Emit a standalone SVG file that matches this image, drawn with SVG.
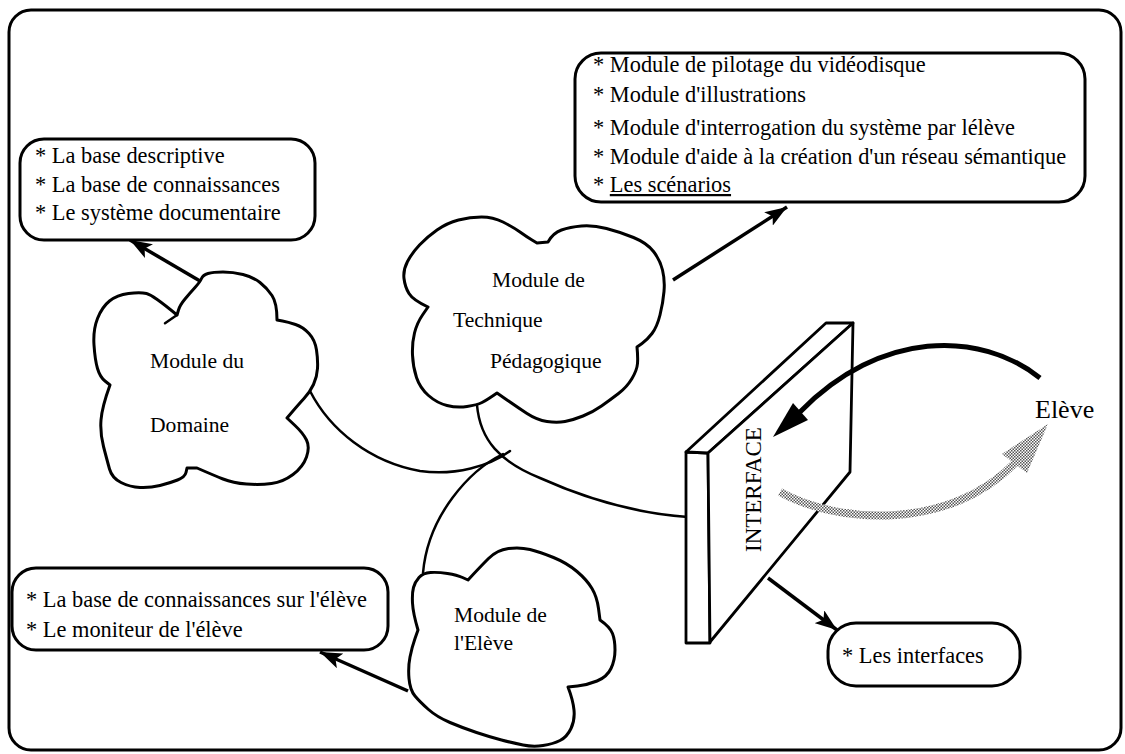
<svg xmlns="http://www.w3.org/2000/svg" width="1125" height="754" viewBox="0 0 1125 754">
<defs>
<style>
.frame{fill:#fff;stroke:#000;stroke-width:3}
.box{fill:#fff;stroke:#000;stroke-width:3}
.cloud{fill:#fff;stroke:#000;stroke-width:3;stroke-linejoin:round}
.conn{fill:none;stroke:#000;stroke-width:2.5;stroke-linecap:round}
.arr{fill:none;stroke:#000;stroke-width:3.5;marker-end:url(#ah)}
.panel{fill:#fff;stroke:#000;stroke-width:2.8;stroke-linejoin:round}
</style>
<marker id="ah" markerUnits="userSpaceOnUse" markerWidth="24" markerHeight="16" refX="22" refY="8" orient="auto">
<path d="M0,0 L22,8 L0,16 L5,8 z" fill="#000"/>
</marker>
<pattern id="dots" width="3" height="3" patternUnits="userSpaceOnUse">
<rect width="3" height="3" fill="#fff"/>
<rect x="0" y="0" width="1.5" height="1.5" fill="#555"/>
<rect x="1.5" y="1.5" width="1.5" height="1.5" fill="#555"/>
</pattern>
</defs>
<rect class="frame" x="9" y="10" width="1112" height="740" rx="22"/>

<g id="connectors">
<path class="conn" d="M310,391 C330,430 370,462 420,471 C455,476 490,466 510,451"/>
<path class="conn" d="M477,405 C480,440 500,462 540,478 C580,496 630,513 688,517"/>
<path class="conn" d="M503,454 C470,470 428,515 423,573"/>
<path class="arr" d="M200,281 L130,240"/>
<path class="arr" d="M673,280 L787,207"/>
<path class="arr" d="M408,691 L320,652"/>
<path class="arr" d="M768,578 L837,630"/>
</g>

<g id="box-domaine">
<rect class="box" x="20" y="139" width="295" height="101" rx="24"/>
<text font-family="Liberation Serif, serif" font-size="22.4" x="35" y="163">* La base descriptive</text>
<text font-family="Liberation Serif, serif" font-size="22.4" x="35" y="192">* La base de connaissances</text>
<text font-family="Liberation Serif, serif" font-size="22.4" x="35" y="220">* Le système documentaire</text>
</g>

<g id="box-technique">
<rect class="box" x="575" y="53" width="510" height="149" rx="26"/>
<text font-family="Liberation Serif, serif" font-size="22.4" x="593" y="72">* Module de pilotage du vidéodisque</text>
<text font-family="Liberation Serif, serif" font-size="22.4" x="593" y="102">* Module d'illustrations</text>
<text font-family="Liberation Serif, serif" font-size="22.4" x="593" y="135">* Module d'interrogation du système par lélève</text>
<text font-family="Liberation Serif, serif" font-size="22.4" x="593" y="164">* Module d'aide à la création d'un réseau sémantique</text>
<text font-family="Liberation Serif, serif" font-size="22.4" x="593" y="192">* <tspan text-decoration="underline">Les scénarios</tspan></text>
</g>

<g id="box-eleve">
<rect class="box" x="12" y="568" width="376" height="82" rx="24"/>
<text font-family="Liberation Serif, serif" font-size="22.4" x="26" y="607">* La base de connaissances sur l'élève</text>
<text font-family="Liberation Serif, serif" font-size="22.4" x="26" y="637">* Le moniteur de l'élève</text>
</g>

<g id="box-interfaces">
<rect class="box" x="828" y="623" width="192" height="63" rx="28"/>
<text font-family="Liberation Serif, serif" font-size="22.4" x="842" y="663">* Les interfaces</text>
</g>

<g id="cloud-domaine">
<path class="cloud" d="M177,315 Q153,295 146.5,293.5 Q140,292 128.5,293.5 Q117,295 109.5,301 Q102,307 97.5,318.5 Q93,330 94,345 Q95,360 97.5,368.5 Q100,377 105,381 L110,385 Q102,407 101,420 Q100,433 103.5,446.5 Q107,460 109.5,469 Q112,478 121,482.5 Q130,487 140,487.5 Q150,488 160,485.5 Q170,483 177.5,480 Q185,477 186,472.5 L187,468 L197,468 Q213,475 223,479 Q233,483 246.5,484 Q260,485 271.5,483.5 Q283,482 293,474.5 Q303,467 306.5,457 Q310,447 306.5,440 Q303,433 295,425.5 L287,418 Q298,405 304,398.5 Q310,392 313.5,384.5 Q317,377 317.5,368.5 Q318,360 316.5,350 Q315,340 309,333.5 Q303,327 295.5,324.5 Q288,322 282.5,321 L277,320 Q277,303 272,295.5 Q267,288 260,282.5 Q253,277 243,274.5 Q233,272 223,272 Q213,272 208,273.5 Q203,275 201.5,278.5 Q200,282 195,287.5 Q190,293 185,299 Q180,305 178.5,310 L177,315 Z"/>
<path class="conn" d="M177,315 L165,323.3" stroke-width="3"/>
<text font-family="Liberation Serif, serif" font-size="21.6" x="150" y="368">Module du</text>
<text font-family="Liberation Serif, serif" font-size="21.6" x="150" y="432">Domaine</text>
</g>

<g id="cloud-technique">
<path class="cloud" d="M537,243 L548,242 Q553,233 561.5,230 Q570,227 581.5,226 Q593,225 606.5,228.5 Q620,232 633.5,237.5 Q647,243 653.5,251.5 Q660,260 662.5,270 Q665,280 664,291.5 Q663,303 660,315 Q657,327 652,333.5 Q647,340 642,343.5 L637,347 Q638,357 637.5,363.5 Q637,370 632,378.5 Q627,387 618.5,393.5 Q610,400 601.5,406 Q593,412 583,416 Q573,420 565,421.5 Q557,423 547,421.5 Q537,420 527,413.5 Q517,407 507,400 L497,393 Q487,400 482,402.5 Q477,405 467,406.5 Q457,408 447,405.5 Q437,403 428.5,395.5 Q420,388 416.5,377.5 Q413,367 412.5,355 Q412,343 414.5,333 Q417,323 422.5,315 L428,307 Q413,300 409,293.5 Q405,287 404,278.5 Q403,270 407.5,261.5 Q412,253 419.5,245 Q427,237 437,230 Q447,223 458.5,220 Q470,217 481.5,217 Q493,217 503,222 Q513,227 520,232 Q527,237 532,240 L537,243 Z"/>
<text font-family="Liberation Serif, serif" font-size="21.6" x="492" y="287">Module de</text>
<text font-family="Liberation Serif, serif" font-size="21.6" x="453" y="327">Technique</text>
<text font-family="Liberation Serif, serif" font-size="21.6" x="490" y="368">Pédagogique</text>
</g>

<g id="cloud-eleve">
<path class="cloud" d="M468,580 Q480,567 488.5,558.5 Q497,550 508.5,548.5 Q520,547 530,549.5 Q540,552 553.5,557.5 Q567,563 577,571.5 Q587,580 592,588.5 Q597,597 598.5,608.5 L600,620 Q610,627 612.5,633.5 Q615,640 615,650 Q615,660 611,668.5 Q607,677 597,681 Q587,685 577.5,686 L568,687 Q573,700 574,710 Q575,720 571,728.5 Q567,737 560,740.5 Q553,744 543,745.5 Q533,747 523,745 Q513,743 501.5,740 Q490,737 476.5,732.5 Q463,728 450,722.5 Q437,717 428.5,709.5 Q420,702 415,696 Q410,690 409,678.5 Q408,667 410,657 Q412,647 415,638.5 L418,630 Q413,613 412.5,603 Q412,593 413.5,587.5 Q415,582 419,577.5 Q423,573 430.5,572.5 Q438,572 447.5,573.5 Q457,575 462.5,577.5 L468,580 Z"/>
<text font-family="Liberation Serif, serif" font-size="21.6" x="454" y="622">Module de</text>
<text font-family="Liberation Serif, serif" font-size="21.6" x="454" y="650">l'Elève</text>
</g>

<g id="interface">
<polygon class="panel" points="686,452 708,453 710,643 686,643"/>
<polygon class="panel" points="686,452 826,323 853,323 708,453"/>
<polygon class="panel" points="708,453 853,323 850,472 710,642"/>
<text font-family="Liberation Serif, serif" font-size="23" transform="translate(761,552) rotate(-90)">INTERFACE</text>
</g>

<g id="eleve">
<path d="M780,492 C840,525 950,530 1015,463" fill="none" stroke="url(#dots)" stroke-width="8"/>
<polygon points="1048,424 1002,454 1027,473" fill="url(#dots)"/>
<path d="M1040,378 C980,330 880,330 800,412" fill="none" stroke="#000" stroke-width="5"/>
<polygon points="773,437 793,403 808,420" fill="#000"/>
<text font-family="Liberation Serif, serif" font-size="26" x="1035" y="418">Elève</text>
</g>
</svg>
